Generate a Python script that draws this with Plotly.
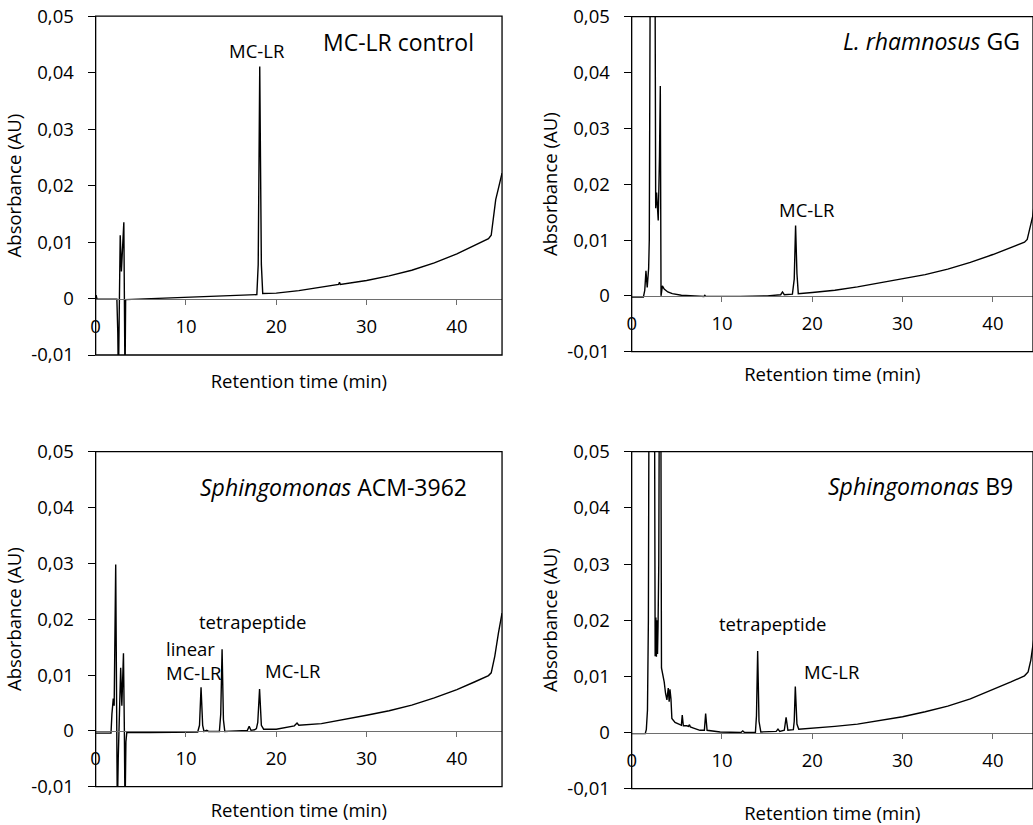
import plotly.graph_objects as go

# ---------------- data ----------------
# Panel 1: MC-LR control
t1 = [0.0, 0.05, 0.15, 2.35, 2.45, 2.52, 2.6, 2.72, 2.85, 3.12, 3.2, 3.25, 3.32, 5.0, 8.0, 10.0,
      13.0, 15.0, 17.0, 17.85, 18.0, 18.1, 18.17, 18.25, 18.35, 18.5, 20.0, 22.5, 25.0, 26.9, 27.0,
      27.1, 30.0, 32.5, 35.0, 37.5, 40.0, 42.0, 43.5, 43.8, 44.1, 44.3, 44.6, 45.0]
a1 = [0.0, 0.0006, -0.0001, -0.0001, -0.006, -0.015, -0.004, 0.0112, 0.0048, 0.0135, -0.004, -0.015,
      -0.0002, -0.0001, 0.0001, 0.0002, 0.0003, 0.0004, 0.0006, 0.0007, 0.006, 0.03, 0.0411, 0.025,
      0.006, 0.0009, 0.00095, 0.0014, 0.002, 0.0025, 0.0029, 0.0025, 0.0032, 0.0040, 0.0050, 0.0063,
      0.0079, 0.0094, 0.0106, 0.0112, 0.0148, 0.0175, 0.0195, 0.0222]

# Panel 2: L. rhamnosus GG
t2 = [0.0, 1.3, 1.45, 1.58, 1.72, 1.88, 1.95, 2.03, 2.1, 2.55, 2.6, 2.66, 2.76, 2.94, 3.08, 3.17,
      3.25, 3.4, 3.6, 4.0, 4.5, 5.5, 7.0, 8.0, 8.1, 8.2, 12.0, 15.0, 16.5, 16.7, 16.9, 17.8, 18.0,
      18.15, 18.3, 18.45, 20.0, 22.5, 25.0, 27.5, 30.0, 32.5, 35.0, 37.5, 40.0, 42.0, 43.5, 43.8,
      44.1, 44.4, 44.7, 45.0]
a2 = [-0.0002, -0.0002, 0.001, 0.0045, 0.0015, 0.005, 0.01, 0.04, 0.08, 0.08, 0.02, 0.0157, 0.0185,
      0.0135, 0.025, 0.0376, 0.0, 0.0018, 0.0012, 0.0007, 0.0004, 0.0001, 0.0, -0.0001, 0.0001,
      -0.0001, -0.0001, 0.0, 0.0002, 0.0007, 0.0002, 0.0003, 0.003, 0.0126, 0.004, 0.0004, 0.0006,
      0.001, 0.0016, 0.0023, 0.003, 0.0038, 0.0048, 0.006, 0.0074, 0.0087, 0.0096, 0.0101, 0.0124,
      0.0142, 0.018, 0.022]

# Panel 3: Sphingomonas ACM-3962
t3 = [0.0, 1.7, 1.8, 1.95, 2.05, 2.15, 2.22, 2.3, 2.4, 2.5, 2.62, 2.77, 2.9, 3.08, 3.18, 3.25, 3.35,
      3.45, 6.0, 9.0, 11.3, 11.5, 11.67, 11.85, 12.0, 12.3, 12.5, 13.7, 13.85, 14.0, 14.15, 14.3,
      16.8, 17.0, 17.2, 17.6, 17.8, 17.95, 18.15, 18.35, 18.6, 20.0, 22.0, 22.3, 22.5, 25.0, 27.5,
      30.0, 32.5, 35.0, 37.5, 40.0, 42.0, 43.5, 43.8, 44.2, 44.6, 45.0]
a3 = [-0.0004, -0.0004, 0.003, 0.0058, 0.0045, 0.02, 0.0298, 0.01, -0.015, -0.005, 0.005, 0.0113,
      0.0045, 0.0139, 0.0, -0.015, -0.002, -0.0003, -0.0003, -0.0003, -0.0002, 0.001, 0.0078, 0.001,
      -0.0001, 0.0001, -0.0001, -0.0001, 0.003, 0.0146, 0.002, -0.0001, 0.0001, 0.0008, 0.0001,
      0.0002, 0.0004, 0.0015, 0.0075, 0.001, 0.0003, 0.0003, 0.0009, 0.0014, 0.001, 0.0013, 0.002,
      0.0028, 0.0036, 0.0046, 0.0059, 0.0074, 0.0088, 0.0099, 0.0104, 0.0134, 0.0175, 0.0211]

# Panel 4: Sphingomonas B9
t4 = [0.0, 1.5, 1.62, 1.75, 1.85, 1.95, 2.5, 2.6, 2.68, 2.74, 2.8, 2.86, 2.92, 3.0, 3.1, 3.2, 3.3,
      3.45, 3.6, 3.75, 3.9, 4.05, 4.15, 4.24, 4.35, 4.45, 4.8, 5.35, 5.5, 5.6, 5.72, 6.1, 6.3, 6.4,
      6.5, 6.85, 7.56, 8.05, 8.19, 8.35, 9.8, 12.1, 12.3, 12.5, 13.7, 13.82, 13.95, 14.1, 14.3,
      16.0, 16.2, 16.4, 16.9, 17.1, 17.3, 17.9, 18.0, 18.12, 18.3, 18.5, 20.0, 22.5, 25.0, 27.5,
      30.0, 32.5, 35.0, 37.5, 40.0, 42.0, 43.5, 43.9, 44.2, 44.4, 44.7, 45.0]
a4 = [-0.0002, -0.0002, 0.0005, 0.004, 0.02, 0.08, 0.08, 0.0136, 0.0205, 0.0135, 0.02, 0.014, 0.019,
      0.03, 0.08, 0.08, 0.0115, 0.0105, 0.009, 0.007, 0.0058, 0.0079, 0.0055, 0.0077, 0.006, 0.0025,
      0.0018, 0.0014, 0.0013, 0.0031, 0.0012, 0.0012, 0.0011, 0.0014, 0.001, 0.0008, 0.0004, 0.0004,
      0.0034, 0.0004, 0.0001, 0.0, 0.0003, 0.0, 0.0, 0.003, 0.0145, 0.002, 0.0001, 0.0002, 0.0006,
      0.0002, 0.0004, 0.0027, 0.0004, 0.0005, 0.002, 0.0082, 0.0015, 0.0006, 0.00077, 0.0011, 0.0015,
      0.0021, 0.0028, 0.0037, 0.0047, 0.006, 0.0076, 0.009, 0.0101, 0.0108, 0.0129, 0.0153, 0.019,
      0.022]

x_tickvals = [0, 10, 20, 30, 40]
x_ticktext = ["0", "10", "20", "30", "40"]
y_tickvals = [-0.01, 0.0, 0.01, 0.02, 0.03, 0.04, 0.05]
y_ticktext = ["-0,01", "0", "0,01", "0,02", "0,03", "0,04", "0,05"]

panel_titles = ["MC-LR control", "<i>L. rhamnosus</i> GG",
                "<i>Sphingomonas</i> ACM-3962", "<i>Sphingomonas</i> B9"]
x_title = "Retention time (min)"
y_title = "Absorbance (AU)"

# ---------------- layout geometry ----------------
FONT = "Open Sans"
FS = 18.5
xdoms = [[0.0926, 0.4860], [0.6115, 1.0], [0.0926, 0.4860], [0.6115, 1.0]]
ydoms = [[0.5697, 0.9804], [0.5737, 0.9798], [0.0464, 0.4525], [0.0440, 0.4525]]
xranges = [[0, 45], [0, 44.44], [0, 45], [0, 44.44]]
xtitle_standoff = [38, 33, 34, 41]
YR = [-0.01, 0.05]

fig = go.Figure()
series = [(t1, a1), (t2, a2), (t3, a3), (t4, a4)]
for i, (t, a) in enumerate(series):
    n = "" if i == 0 else str(i + 1)
    fig.add_trace(go.Scatter(x=t, y=a, mode="lines", xaxis="x" + n, yaxis="y" + n,
                             line=dict(color="black", width=1.4), showlegend=False,
                             hoverinfo="x+y"))

layout = dict(
    width=1033, height=825,
    margin=dict(l=0, r=0, t=0, b=0, pad=0, autoexpand=False),
    paper_bgcolor="white", plot_bgcolor="white",
    font=dict(family=FONT, size=FS, color="black"),
    showlegend=False,
    shapes=[], annotations=[],
)

for i in range(4):
    n = "" if i == 0 else str(i + 1)
    y0, y1 = ydoms[i]
    pos0 = y0 + (y1 - y0) * (0 - YR[0]) / (YR[1] - YR[0])
    layout["xaxis" + n] = dict(
        domain=xdoms[i], range=xranges[i], anchor="free", position=pos0,
        automargin=False,
        showline=True, linecolor="#6e6e6e", linewidth=1.3,
        ticks="outside", ticklen=5, tickcolor="#6e6e6e", tickwidth=1.3,
        tickvals=x_tickvals, ticktext=x_ticktext, ticklabelstandoff=6,
        showgrid=False, zeroline=False,
        tickfont=dict(family=FONT, size=FS, color="black"),
        title=dict(text=x_title, standoff=xtitle_standoff[i],
                   font=dict(family=FONT, size=FS, color="black")),
    )
    layout["yaxis" + n] = dict(
        domain=ydoms[i], range=YR, anchor="x" + n,
        automargin=False,
        showline=True, linecolor="black", linewidth=1.3,
        ticks="outside", ticklen=7, tickcolor="black", tickwidth=1.3,
        tickvals=y_tickvals, ticktext=y_ticktext, ticklabelstandoff=10,
        showgrid=False, zeroline=False,
        tickfont=dict(family=FONT, size=FS, color="black"),
        title=dict(text=y_title, standoff=4, font=dict(family=FONT, size=FS, color="black")),
    )
    layout["shapes"].append(dict(type="rect", xref="x" + n + " domain", yref="y" + n + " domain",
                                 x0=0, x1=1, y0=0, y1=1, line=dict(color="black", width=1.3),
                                 layer="above"))

ann = [
    (0, 33.53, 0.04536, panel_titles[0], 23, "center"),
    (0, 17.84, 0.04387, "MC-LR", FS, "center"),
    (1, 33.22, 0.04565, panel_titles[1], 23, "center"),
    (1, 19.43, 0.01552, "MC-LR", FS, "center"),
    (2, 26.35, 0.04375, panel_titles[2], 23, "center"),
    (2, 17.32, 0.0196, "tetrapeptide", FS, "center"),
    (2, 7.55, 0.01257, "linear<br>MC-LR", FS, "left"),
    (2, 21.8, 0.01083, "MC-LR", FS, "center"),
    (3, 32.0, 0.04393, panel_titles[3], 23, "center"),
    (3, 15.59, 0.01946, "tetrapeptide", FS, "center"),
    (3, 22.18, 0.01078, "MC-LR", FS, "center"),
]
for (p, x, y, txt, fs, al) in ann:
    n = "" if p == 0 else str(p + 1)
    layout["annotations"].append(dict(
        x=x, y=y, xref="x" + n, yref="y" + n, text=txt, showarrow=False,
        xanchor="left" if al == "left" else "center", yanchor="middle", align=al,
        font=dict(family=FONT, size=fs, color="black")))

fig.update_layout(**layout)
fig.write_html("out.html")
